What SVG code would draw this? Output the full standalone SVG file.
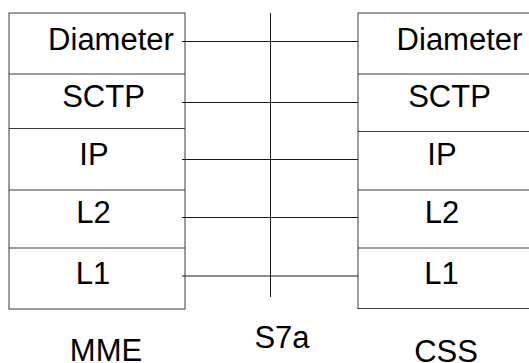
<svg xmlns="http://www.w3.org/2000/svg" width="529" height="363" viewBox="0 0 529 363">
<style>
.box{fill:#fff;stroke:#3a3a3a;stroke-width:1}
.div{stroke:#3a3a3a;stroke-width:1}
.conn{stroke:#1a1a1a;stroke-width:1;fill:none}
text{font-family:"Liberation Sans",Arial,sans-serif;font-size:31px;fill:#000;text-anchor:middle}
</style>
<rect width="529" height="363" fill="#fff"/>
<g id="MME">
<rect class="box" x="9" y="13" width="176" height="296"/>
<line class="div" x1="9" y1="74" x2="185" y2="74"/>
<line class="div" x1="9" y1="128.5" x2="185" y2="128.5"/>
<line class="div" x1="9" y1="190" x2="185" y2="190"/>
<line class="div" x1="9" y1="248" x2="185" y2="248"/>
<text x="111" y="50">Diameter</text>
<text x="103.5" y="107">SCTP</text>
<text x="94" y="165">IP</text>
<text x="93.5" y="223">L2</text>
<text x="93" y="284">L1</text>
<text x="106" y="361">MME</text>
</g>
<g id="CSS">
<rect class="box" x="358" y="13" width="200" height="295.5"/>
<line class="div" x1="358" y1="74" x2="529" y2="74"/>
<line class="div" x1="358" y1="131.5" x2="529" y2="131.5"/>
<line class="div" x1="358" y1="190" x2="529" y2="190"/>
<line class="div" x1="358" y1="248" x2="529" y2="248"/>
<text x="459.5" y="50">Diameter</text>
<text x="449.5" y="107">SCTP</text>
<text x="442" y="165">IP</text>
<text x="442" y="223">L2</text>
<text x="441.5" y="284">L1</text>
<text x="446" y="362">CSS</text>
</g>
<g id="S7a">
<line class="conn" x1="270.5" y1="13" x2="270.5" y2="297"/>
<text x="282" y="348">S7a</text>
</g>
<g id="connectors">
<line class="conn" x1="182" y1="41.5" x2="358" y2="41.5"/>
<line class="conn" x1="182" y1="102.5" x2="358" y2="102.5"/>
<line class="conn" x1="182" y1="159.5" x2="358" y2="159.5"/>
<line class="conn" x1="182" y1="217.5" x2="358" y2="217.5"/>
<line class="conn" x1="182" y1="276" x2="358" y2="276"/>
</g>
</svg>
